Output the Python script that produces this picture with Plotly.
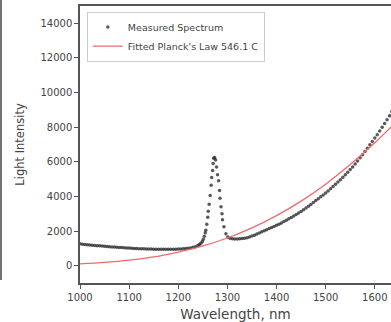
import plotly.graph_objects as go

# Measured spectrum, wavelength (nm) / intensity
meas_wl = [
    1000, 1005, 1010, 1015, 1020, 1025, 1030, 1035, 1040, 1045,
    1050, 1055, 1060, 1065, 1070, 1075, 1080, 1085, 1090, 1095,
    1100, 1105, 1110, 1115, 1120, 1125, 1130, 1135, 1140, 1145,
    1150, 1155, 1160, 1165, 1170, 1175, 1180, 1185, 1190, 1195,
    1200, 1205, 1210, 1215, 1220, 1225, 1230, 1235, 1240, 1243,
    1246, 1249, 1251, 1253, 1255, 1256, 1258, 1260, 1261, 1263,
    1265, 1267, 1268, 1270, 1271, 1272, 1274, 1276, 1278, 1280,
    1282, 1284, 1285, 1287, 1289, 1290, 1293, 1297, 1301, 1305,
    1310, 1315, 1320, 1325, 1330, 1335, 1340, 1345, 1350, 1355,
    1360, 1365, 1370, 1375, 1380, 1385, 1390, 1395, 1400, 1405,
    1410, 1415, 1420, 1425, 1430, 1435, 1440, 1445, 1450, 1455,
    1460, 1465, 1470, 1475, 1480, 1485, 1490, 1495, 1500, 1505,
    1510, 1515, 1520, 1525, 1530, 1535, 1540, 1545, 1550, 1555,
    1560, 1565, 1570, 1575, 1580, 1585, 1590, 1595, 1600, 1605,
    1610, 1615, 1620, 1625, 1630, 1635, 1640,
]
meas_int = [
    1260, 1245, 1230, 1215, 1200, 1185, 1170, 1158, 1145, 1132,
    1120, 1108, 1097, 1086, 1075, 1065, 1055, 1045, 1035, 1026,
    1017, 1008, 1000, 992, 985, 978, 972, 967, 962, 958,
    954, 951, 949, 947, 946, 945, 946, 948, 951, 955,
    960, 967, 976, 988, 1005, 1028, 1060, 1100, 1160, 1220,
    1300, 1400, 1520, 1700, 1900, 2050, 2400, 2800, 3150, 3550,
    4050, 4650, 5100, 5500, 5900, 6200, 6250, 6100, 5700, 5250,
    4900, 4350, 3900, 3400, 3000, 2650, 2250, 1850, 1650, 1590,
    1560, 1545, 1540, 1550, 1565, 1590, 1620, 1660, 1710, 1765,
    1825, 1890, 1955, 2020, 2080, 2150, 2210, 2270, 2330, 2400,
    2470, 2550, 2630, 2710, 2790, 2870, 2950, 3040, 3130, 3230,
    3330, 3430, 3540, 3650, 3760, 3870, 3980, 4090, 4200, 4320,
    4440, 4570, 4700, 4830, 4970, 5110, 5250, 5400, 5550, 5700,
    5870, 6050, 6230, 6410, 6600, 6790, 6980, 7170, 7370, 7570,
    7780, 7990, 8210, 8430, 8660, 8900, 9140,
]

# Fitted Planck's law curve
fit_wl = [1000, 1050, 1100, 1150, 1200, 1250, 1300, 1350, 1400, 1450, 1500, 1550, 1600, 1650]
fit_int = [110, 190, 320, 510, 790, 1140, 1600, 2180, 2890, 3730, 4710, 5840, 7100, 8480]

x_ticks = [1000, 1100, 1200, 1300, 1400, 1500, 1600]
y_ticks = [0, 2000, 4000, 6000, 8000, 10000, 12000, 14000]

font = "DejaVu Sans"
axcol = "#555555"
txtcol = "#444444"

fig = go.Figure()
fig.add_trace(go.Scatter(
    x=meas_wl, y=meas_int, mode="markers", name="Measured Spectrum",
    marker=dict(size=3.5, color="#222222", opacity=0.75, line=dict(width=0)),
))
fig.add_trace(go.Scatter(
    x=fit_wl, y=fit_int, mode="lines", name="Fitted Planck's Law 546.1 C",
    line=dict(color="#f06a6a", width=1.3, shape="spline"),
))

fig.update_layout(
    width=391, height=322,
    margin=dict(l=80, r=0, t=6, b=39, autoexpand=False),
    paper_bgcolor="white", plot_bgcolor="white",
    font=dict(family=font, color=txtcol, size=9),
    showlegend=True,
    legend=dict(x=0.022, y=0.98, xanchor="left", yanchor="top",
                bgcolor="white", bordercolor="#cccccc", borderwidth=1,
                font=dict(size=9.5, family=font, color=txtcol),
                itemwidth=30, tracegroupgap=0),
    xaxis=dict(range=[1000, 1633], tickvals=x_ticks, ticktext=[str(v) for v in x_ticks],
               automargin=False,
               showgrid=False, zeroline=False, showline=True, linecolor=axcol, linewidth=1.5,
               mirror=True, ticks="outside", ticklen=4, tickcolor=axcol, tickwidth=1,
               tickfont=dict(size=10, family=font, color=txtcol),
               title=dict(text="Wavelength, nm", font=dict(size=13.5, family=font, color=txtcol), standoff=9)),
    yaxis=dict(range=[-1000, 15000], tickvals=y_ticks, ticktext=[str(v) for v in y_ticks],
               automargin=False,
               showgrid=False, zeroline=False, showline=True, linecolor=axcol, linewidth=1.5,
               ticks="outside", ticklen=4, tickcolor=axcol, tickwidth=1,
               tickfont=dict(size=10, family=font, color=txtcol),
               title=dict(text="Light Intensity", font=dict(size=11.5, family=font, color=txtcol), standoff=13)),
)

fig.add_shape(type="line", xref="paper", yref="paper", x0=-0.254, x1=-0.254, y0=1.03, y1=0.011,
              line=dict(color="#444444", width=1.5))

fig.write_html("out.html", config={"displayModeBar": False},
               post_script="document.body.style.margin='0';")
